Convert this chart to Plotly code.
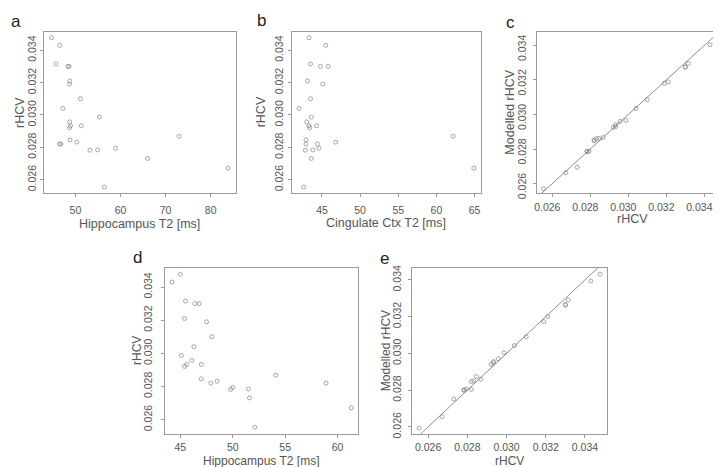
import plotly.graph_objects as go

# ---------------- data ----------------
rhcv = [0.03477, 0.0343, 0.03315, 0.0330, 0.0330, 0.0321, 0.0319, 0.0310, 0.0304,
        0.02987, 0.02957, 0.02933, 0.02933, 0.02921, 0.02868, 0.02846, 0.02832,
        0.0282, 0.0282, 0.02794, 0.02784, 0.02782, 0.02731, 0.02671, 0.02554]

hipp_t2_a = [44.7, 46.5, 45.7, 48.3, 48.6, 48.75, 48.67, 51.1, 47.2,
             55.3, 48.7, 48.9, 51.3, 48.7, 73.0, 48.8, 50.3,
             46.5, 46.8, 58.9, 54.9, 53.2, 66.0, 83.9, 56.4]

cing_t2_b = [43.3, 45.5, 43.5, 44.8, 45.8, 43.1, 45.1, 43.5, 42.0,
             43.6, 43.0, 43.3, 44.3, 43.4, 62.2, 42.9, 46.8,
             42.9, 44.4, 44.6, 43.8, 42.8, 43.6, 64.9, 42.6]

model_c = [0.03444, 0.03404, 0.03295, 0.03274, 0.03276, 0.03189, 0.03181, 0.03086, 0.03034,
           0.02966, 0.0296, 0.02941, 0.0293, 0.02926, 0.02867, 0.02861, 0.02861,
           0.02848, 0.02852, 0.02787, 0.02785, 0.02787, 0.02695, 0.02663, 0.02571]

hipp_t2_d = [45.0, 44.2, 45.5, 46.4, 46.8, 45.4, 47.5, 48.0, 46.3,
             45.1, 46.1, 47.0, 45.6, 45.4, 54.1, 47.0, 48.5,
             58.9, 47.9, 50.0, 51.5, 49.8, 51.6, 61.3, 52.1]

model_e = [0.03431, 0.03394, 0.03291, 0.03266, 0.03262, 0.0320, 0.03173, 0.03091, 0.03043,
           0.03004, 0.02971, 0.02955, 0.02948, 0.0294, 0.02859, 0.02874, 0.0285,
           0.02804, 0.02847, 0.02806, 0.02802, 0.02799, 0.02752, 0.02656, 0.02593]

rhcv_ticks = [0.026, 0.028, 0.030, 0.032, 0.034]
hipp_ticks_a = [50, 60, 70, 80]
cing_ticks_b = [45, 50, 55, 60, 65]
hipp_ticks_d = [45, 50, 55, 60]

panel_letters = ["a", "b", "c", "d", "e"]

# ---------------- layout helpers ----------------
W, H = 721, 467
FONT = "Liberation Sans, Arial, Helvetica, sans-serif"
TEXT = "#555555"
LINE = "#9a9a9a"
MARK = "#8a8a8a"


def px(x):
    return x / W


def py(y):
    return 1 - y / H


fig = go.Figure()

# panel boxes in pixels: (left, right, top, bottom)
boxes = {
    1: (34, 227, 21, 186),
    2: (283, 472, 21, 186),
    3: (528, 718, 21, 186),
    4: (155, 349, 262, 431),
    5: (403, 599, 262, 431),
}
xranges = {1: [43.0, 85.7], 2: [41.1, 65.8], 3: [0.02517, 0.03514],
           4: [43.5, 61.95], 5: [0.02517, 0.03514]}
yranges = {1: [0.02515, 0.03515], 2: [0.02515, 0.03515], 3: [0.02543, 0.0348],
           4: [0.02515, 0.03515], 5: [0.02563, 0.03465]}
xticks = {1: hipp_ticks_a, 2: cing_ticks_b, 3: rhcv_ticks, 4: hipp_ticks_d, 5: rhcv_ticks}
xfmt = {1: "", 2: "", 3: ".3f", 4: "", 5: ".3f"}
# (x standoff, x shift, y standoff, y shift)
label_pos = {1: (4, 0, 0, 0), 2: (4, 0, 1, 0), 3: (1, -5, 2, 4),
             4: (1, 0, 4, 0), 5: (1, 0, 3, 0)}

series = {
    1: (hipp_t2_a, rhcv),
    2: (cing_t2_b, rhcv),
    3: (rhcv, model_c),
    4: (hipp_t2_d, rhcv),
    5: (rhcv, model_e),
}

layout = {}
for i in range(1, 6):
    l, r, t, b = boxes[i]
    xa = "xaxis" if i == 1 else f"xaxis{i}"
    ya = "yaxis" if i == 1 else f"yaxis{i}"
    xr = "x" if i == 1 else f"x{i}"
    yr = "y" if i == 1 else f"y{i}"
    xs_off, xsh, ys_off, ysh = label_pos[i]
    common = dict(showline=True, mirror=True, linecolor=LINE, linewidth=1,
                  ticks="outside", ticklen=3, tickcolor=LINE, tickwidth=1,
                  showgrid=False, zeroline=False,
                  tickfont=dict(family=FONT, size=10.5, color=TEXT))
    layout[xa] = dict(domain=[px(l), px(r)], anchor=yr, range=xranges[i],
                      tickmode="array", tickvals=xticks[i], tickformat=xfmt[i],
                      ticklabelstandoff=xs_off, ticklabelshift=xsh, **common)
    layout[ya] = dict(domain=[py(b), py(t)], anchor=xr, range=yranges[i],
                      tickmode="array", tickvals=rhcv_ticks, tickformat=".3f",
                      tickangle=-90, ticklabelstandoff=ys_off, ticklabelshift=ysh,
                      **common)
    xs, ys = series[i]
    fig.add_trace(go.Scatter(x=xs, y=ys, mode="markers", xaxis=xr, yaxis=yr,
                             marker=dict(symbol="circle-open", size=4, color=MARK,
                                         line=dict(width=0.75, color=MARK)),
                             showlegend=False, hoverinfo="skip"))
    if i in (3, 5):
        lo = min(rhcv) - 0.002
        hi = max(rhcv) + 0.002
        fig.add_trace(go.Scatter(x=[lo, hi], y=[lo, hi], mode="lines", xaxis=xr, yaxis=yr,
                                 line=dict(color="#707070", width=0.8),
                                 showlegend=False, hoverinfo="skip"))

annotations = []


def ann(text, x, y, size, angle=0, color=TEXT):
    annotations.append(dict(text=text, x=px(x), y=py(y), xref="paper", yref="paper",
                            showarrow=False, textangle=angle, xanchor="center",
                            yanchor="middle",
                            font=dict(family=FONT, size=size, color=color)))


# panel letters
for letter, (x, y) in zip(panel_letters, [(6, 11), (252, 10), (502, 12), (128, 251), (376, 252)]):
    ann(letter, x, y, 17, color="#222222")

# axis titles
ann("Hippocampus T2 [ms]", 130, 217, 12.5)
ann("rHCV", 10, 103, 12.5, angle=-90)
ann("Cingulate Ctx T2 [ms]", 377, 216, 12.5)
ann("rHCV", 252, 103, 12.5, angle=-90)
ann("rHCV", 624, 212, 12.5)
ann("Modelled rHCV", 501, 103, 12.5, angle=-90)
ann("Hippocampus T2 [ms]", 252, 459, 12)
ann("rHCV", 128, 346, 12, angle=-90)
ann("rHCV", 501, 459, 12)
ann("Modelled rHCV", 377, 346, 12, angle=-90)

fig.update_layout(width=W, height=H, margin=dict(l=0, r=0, t=0, b=0),
                  paper_bgcolor="white", plot_bgcolor="white",
                  annotations=annotations, **layout)

fig.write_html("out.html")
